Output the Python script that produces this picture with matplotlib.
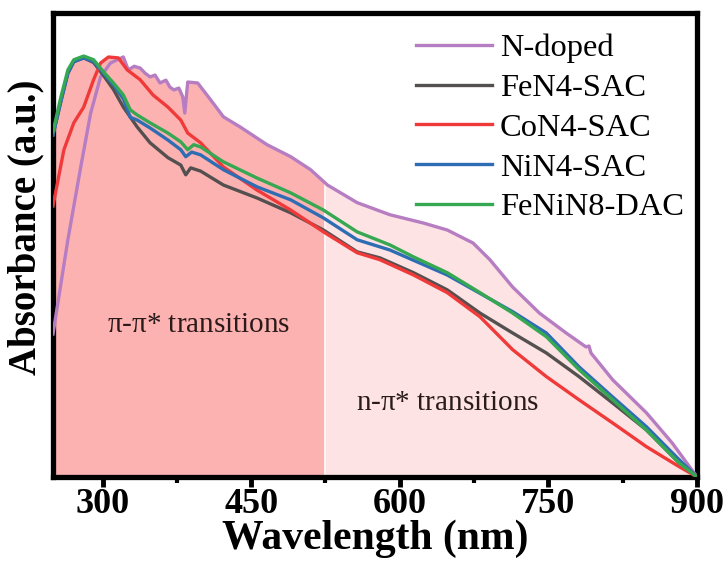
import numpy as np
import matplotlib
matplotlib.use("Agg")
import matplotlib.pyplot as plt
from matplotlib.ticker import MultipleLocator

plt.rcParams['font.family'] = ['Liberation Serif', 'DejaVu Serif']
plt.rcParams['mathtext.fontset'] = 'stix'

# normalised UV-vis absorbance curves (wavelength in nm, absorbance in a.u.)
wl_ndoped = [250, 265, 278, 288, 298, 308, 321, 326, 332, 338, 343, 348, 353, 358, 364, 368,
             372, 377, 381, 383, 386, 396, 409, 422, 439, 466, 490, 510, 527, 557, 590, 624,
             648, 674, 691, 714, 741, 768, 788, 791, 793, 815, 849, 875, 900]
abs_ndoped = [0.308, 0.511, 0.668, 0.784, 0.862, 0.892, 0.905, 0.877, 0.885, 0.881, 0.870, 0.862,
              0.866, 0.849, 0.855, 0.840, 0.834, 0.838, 0.819, 0.784, 0.851, 0.849, 0.813, 0.776,
              0.754, 0.716, 0.690, 0.662, 0.629, 0.591, 0.565, 0.547, 0.532, 0.504, 0.468, 0.409,
              0.353, 0.310, 0.280, 0.282, 0.267, 0.209, 0.138, 0.073, 0.0]

wl_fen4 = [250, 258, 265, 271, 281, 291, 301, 311, 321, 335, 348, 366, 379, 384, 389, 399,
           422, 456, 490, 523, 557, 580, 614, 648, 681, 714, 748, 781, 815, 849, 882, 900]
abs_fen4 = [0.737, 0.810, 0.870, 0.895, 0.903, 0.893, 0.865, 0.835, 0.797, 0.754, 0.720, 0.688,
            0.672, 0.651, 0.666, 0.659, 0.629, 0.601, 0.569, 0.532, 0.485, 0.472, 0.440, 0.403,
            0.353, 0.310, 0.267, 0.216, 0.159, 0.101, 0.030, 0.0]

wl_con4 = [250, 261, 271, 281, 291, 298, 306, 316, 325, 338, 351, 366, 379, 386, 399, 422,
           456, 490, 523, 557, 580, 614, 648, 681, 714, 748, 781, 815, 849, 882, 900]
abs_con4 = [0.584, 0.705, 0.763, 0.797, 0.856, 0.892, 0.905, 0.903, 0.877, 0.856, 0.823, 0.797,
            0.769, 0.741, 0.720, 0.668, 0.618, 0.575, 0.528, 0.483, 0.468, 0.435, 0.397, 0.345,
            0.274, 0.216, 0.166, 0.116, 0.065, 0.022, 0.0]

wl_nin4 = [250, 258, 265, 271, 281, 291, 301, 311, 321, 328, 335, 348, 366, 379, 384, 390,
           399, 422, 456, 490, 523, 557, 590, 648, 714, 748, 781, 815, 849, 882, 900]
abs_nin4 = [0.737, 0.810, 0.870, 0.895, 0.903, 0.895, 0.870, 0.845, 0.815, 0.775, 0.769, 0.752,
            0.726, 0.705, 0.690, 0.700, 0.694, 0.662, 0.625, 0.597, 0.558, 0.511, 0.489, 0.435,
            0.356, 0.310, 0.237, 0.172, 0.108, 0.037, 0.0]

wl_fenin8 = [250, 258, 265, 271, 281, 291, 301, 311, 321, 328, 335, 348, 366, 379, 386, 392,
             399, 422, 456, 490, 523, 557, 590, 614, 648, 681, 714, 748, 781, 815, 849, 882, 900]
abs_fenin8 = [0.744, 0.819, 0.877, 0.899, 0.907, 0.899, 0.873, 0.849, 0.823, 0.791, 0.780, 0.763,
              0.741, 0.722, 0.705, 0.716, 0.711, 0.679, 0.644, 0.612, 0.575, 0.528, 0.500, 0.474,
              0.440, 0.397, 0.353, 0.302, 0.231, 0.166, 0.101, 0.030, 0.0]

labels = ['N-doped', 'FeN4-SAC', 'CoN4-SAC', 'NiN4-SAC', 'FeNiN8-DAC']
colors = ['#b77dc3', '#555050', '#f03a3a', '#2e6db4', '#36a852']
series = [(wl_ndoped, abs_ndoped), (wl_fen4, abs_fen4), (wl_con4, abs_con4),
          (wl_nin4, abs_nin4), (wl_fenin8, abs_fenin8)]
split_wl = 525

fig = plt.figure(figsize=(7.26, 5.61), dpi=100)
ax = fig.add_axes([0.073, 0.150, 0.887, 0.827])

# shaded regions under the upper envelope of all spectra
grid = np.arange(250, 901, 1.0)
envelope = np.max([np.interp(grid, w, a) for w, a in series], axis=0)
ax.fill_between(grid, 0, envelope, where=grid <= split_wl, color='#fdb2b2', lw=0, zorder=1)
ax.fill_between(grid, 0, envelope, where=grid >= split_wl, color='#fde3e3', lw=0, zorder=1)
ax.axvline(split_wl, ymax=np.interp(split_wl, grid, envelope), color='white', lw=1.2, zorder=1.5)

for (w, a), lab, c in zip(series, labels, colors):
    ax.plot(w, a, color=c, lw=2.4, label=lab, zorder=3)

ax.text(397, 0.3125, r'$\mathregular{\pi}$-$\mathregular{\pi}$* transitions', fontsize=21,
        ha='center', va='baseline', color='#2a1a1a')
ax.text(648, 0.144, r'n-$\mathregular{\pi}$* transitions', fontsize=21,
        ha='center', va='baseline', color='#2a1a1a')

ax.set_xlim(250, 900)
ax.set_ylim(0, 1)
ax.xaxis.set_major_locator(MultipleLocator(150))
ax.xaxis.set_minor_locator(MultipleLocator(75))
ax.set_yticks([])
ax.tick_params(axis='x', which='major', direction='out', length=7, width=3.5, labelsize=26, pad=1)
ax.tick_params(axis='x', which='minor', direction='out', length=4, width=3)
for lab in ax.get_xticklabels():
    lab.set_fontweight('bold')
for sp in ax.spines.values():
    sp.set_linewidth(3.8)

ax.set_xlabel('Wavelength (nm)', fontsize=30, fontweight='bold', labelpad=-1)
ax.set_ylabel('Absorbance (a.u.)', fontsize=28, fontweight='bold')
ax.yaxis.set_label_coords(-0.014, 0.537)

ax.legend(loc='upper right', bbox_to_anchor=(0.98, 0.956), frameon=False, fontsize=23.4,
          handlelength=2.34, handletextpad=0.25, labelspacing=0.31, borderaxespad=0,
          borderpad=0)

fig.savefig('out.png', dpi=100)
